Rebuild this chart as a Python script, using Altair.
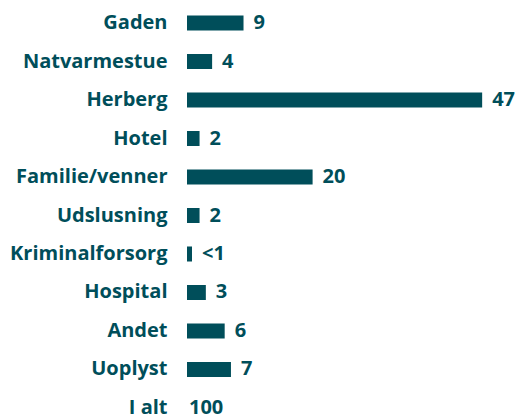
import altair as alt
import pandas as pd

categories = ["Gaden", "Natvarmestue", "Herberg", "Hotel", "Familie/venner",
              "Udslusning", "Kriminalforsorg", "Hospital", "Andet", "Uoplyst", "I alt"]
values = [9, 4, 47, 2, 20, 2, 0.8, 3, 6, 7, None]
labels = ["9", "4", "47", "2", "20", "2", "<1", "3", "6", "7", "100"]

df = pd.DataFrame({"cat": categories, "value": values, "label": labels})
df["tx"] = df["value"].fillna(0)

COLOR = "#004e5a"
FONT = "Open Sans"
FS = 20

y = alt.Y("cat:N", sort=categories, title=None,
          scale=alt.Scale(paddingInner=0.61, paddingOuter=0.143),
          axis=alt.Axis(domain=False, ticks=False, labelPadding=20,
                        labelFont=FONT, labelFontSize=FS, labelFontWeight="bold",
                        labelColor=COLOR))
x = alt.X("value:Q", title=None, scale=alt.Scale(domain=[0, 50]), axis=None)

base = alt.Chart(df)
bars = base.mark_bar(color=COLOR).encode(x=x, y=y)
text = base.transform_filter("datum.value != null").mark_text(
    align="left", baseline="middle", dx=10, font=FONT, fontSize=FS,
    fontWeight="bold", color=COLOR
).encode(x=alt.X("tx:Q"), y=alt.Y("cat:N", sort=categories), text="label:N")
total = base.transform_filter("datum.value == null").mark_text(
    align="left", baseline="middle", dx=2, font=FONT, fontSize=FS,
    fontWeight="bold", color=COLOR
).encode(x=alt.X("tx:Q"), y=alt.Y("cat:N", sort=categories), text="label:N")

chart = alt.layer(bars, text, total).properties(
    width=314, height=411,
    autosize=alt.AutoSizeParams(type="none"),
    padding={"left": 179, "top": 2, "right": 14, "bottom": 0},
    background="white",
).configure_view(stroke=None)

chart.save("out.html", embed_options={"renderer": "svg", "actions": False})
